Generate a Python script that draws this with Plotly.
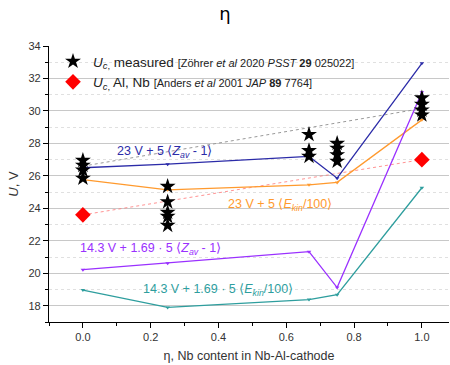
import plotly.graph_objects as go

# ---- data ----
eta = [0.0, 0.25, 0.667, 0.75, 1.0]
u_zav = [26.5, 26.72, 27.2, 25.86, 32.93]          # 23 V + 5 <Zav-1>
u_ekin = [25.77, 25.14, 25.45, 25.6, 29.45]        # 23 V + 5 <Ekin/100>
u_zav2 = [20.22, 20.62, 21.33, 19.12, 31.15]       # 14.3 V + 1.69*5 <Zav-1>
u_ekin2 = [18.97, 17.9, 18.38, 18.68, 25.27]       # 14.3 V + 1.69*5 <Ekin/100>

meas_x = [0, 0, 0, 0,
          0.25, 0.25, 0.25, 0.25, 0.25,
          0.667, 0.667, 0.667,
          0.75, 0.75, 0.75, 0.75,
          1.0, 1.0, 1.0, 1.0]
meas_y = [26.95, 26.65, 26.35, 25.85,
          25.35, 24.4, 23.75, 23.5, 22.95,
          28.55, 27.55, 27.2,
          28.0, 27.7, 27.3, 26.9,
          30.8, 30.4, 30.05, 29.75]

anders_x = [0.0, 1.0]
anders_y = [23.6, 27.0]

trend_x = [0.0, 1.0]
trend_y = [26.6, 30.15]

BLUE = "#2b2ba8"
ORANGE = "#ff9a2e"
PURPLE = "#9a30ff"
TEAL = "#2e9e9e"

fig = go.Figure()

fig.add_trace(go.Scatter(x=trend_x, y=trend_y, mode="lines", showlegend=False,
                         line=dict(color="#999999", width=1, dash="dot"), hoverinfo="skip"))
fig.add_trace(go.Scatter(x=anders_x, y=anders_y, mode="lines", showlegend=False,
                         line=dict(color="rgba(255,120,120,0.8)", width=1, dash="dot"), hoverinfo="skip"))

for ys, col in [(u_zav, BLUE), (u_ekin, ORANGE), (u_zav2, PURPLE), (u_ekin2, TEAL)]:
    fig.add_trace(go.Scatter(x=eta, y=ys, mode="lines+markers", showlegend=False,
                             line=dict(color=col, width=1.3),
                             marker=dict(color=col, size=4, symbol="triangle-down")))

fig.add_trace(go.Scatter(
    x=meas_x, y=meas_y, mode="markers",
    name="<i>U</i><sub><i>c</i>,</sub> measured <span style='font-size:11px'>[Zöhrer <i>et al</i> 2020 <i>PSST</i> <b>29</b> 025022]</span>",
    marker=dict(symbol="star", size=12, color="black")))
fig.add_trace(go.Scatter(
    x=anders_x, y=anders_y, mode="markers",
    name="<i>U</i><sub><i>c</i>,</sub> Al, Nb <span style='font-size:11px'>[Anders <i>et al</i> 2001 <i>JAP</i> <b>89</b> 7764]</span>",
    marker=dict(symbol="diamond", size=12, color="#ff0000")))

ann = [
    (0.24, 27.5, "23 V + 5 ⟨<i>Z</i><sub><i>av</i></sub> - 1⟩", BLUE),
    (0.58, 24.2, "23 V + 5 ⟨<i>E</i><sub><i>kin</i></sub>/100⟩", ORANGE),
    (0.2, 21.5, "14.3 V + 1.69 · 5 ⟨<i>Z</i><sub><i>av</i></sub> - 1⟩", PURPLE),
    (0.4, 19.0, "14.3 V + 1.69 · 5 ⟨<i>E</i><sub><i>kin</i></sub>/100⟩", TEAL),
]
for x, y, t, c in ann:
    fig.add_annotation(x=x, y=y, text=t, showarrow=False, xref="x", yref="y",
                       font=dict(size=12.5, color=c, family="Arial, Liberation Sans, sans-serif"))

fig.update_layout(
    width=450, height=365,
    margin=dict(l=49, r=1, t=46, b=43),
    paper_bgcolor="white", plot_bgcolor="white",
    font=dict(family="Arial, Liberation Sans, sans-serif", color="#333333"),
    title=dict(text="η", x=0.5, xanchor="center", y=0.98, yanchor="top",
               font=dict(size=18, color="black", family="DejaVu Sans, sans-serif")),
    legend=dict(x=0.01, y=1.0, xanchor="left", yanchor="top", bgcolor="rgba(0,0,0,0)",
                font=dict(size=13.5, color="#222222"), itemsizing="constant", tracegroupgap=0),
    xaxis=dict(range=[-0.1, 1.08], tickvals=[0, 0.2, 0.4, 0.6, 0.8, 1.0],
               ticktext=["0.0", "0.2", "0.4", "0.6", "0.8", "1.0"],
               showgrid=False, zeroline=False, showline=True, linecolor="black", linewidth=1.3,
               ticks="outside", ticklen=5, tickcolor="black", tickfont=dict(size=11, color="#333"),
               minor=dict(dtick=0.1, ticks="outside", ticklen=3, tickcolor="black", showgrid=False),
               title=dict(text="η, Nb content in Nb-Al-cathode", font=dict(size=12.5, color="#333"), standoff=8)),
    yaxis=dict(range=[17, 34], dtick=2, tick0=18,
               showgrid=True, gridcolor="#c8c8c8", gridwidth=1, zeroline=False,
               showline=True, linecolor="black", linewidth=1.3,
               ticks="outside", ticklen=5, tickcolor="black", tickfont=dict(size=11, color="#333"),
               minor=dict(dtick=1, tick0=17, ticks="outside", ticklen=3, tickcolor="black",
                          showgrid=True, gridcolor="#e0e0e0", griddash="dot"),
               title=dict(text="<i>U</i>, V", font=dict(size=13, color="#333"), standoff=6)),
)

fig.write_html("out.html")
